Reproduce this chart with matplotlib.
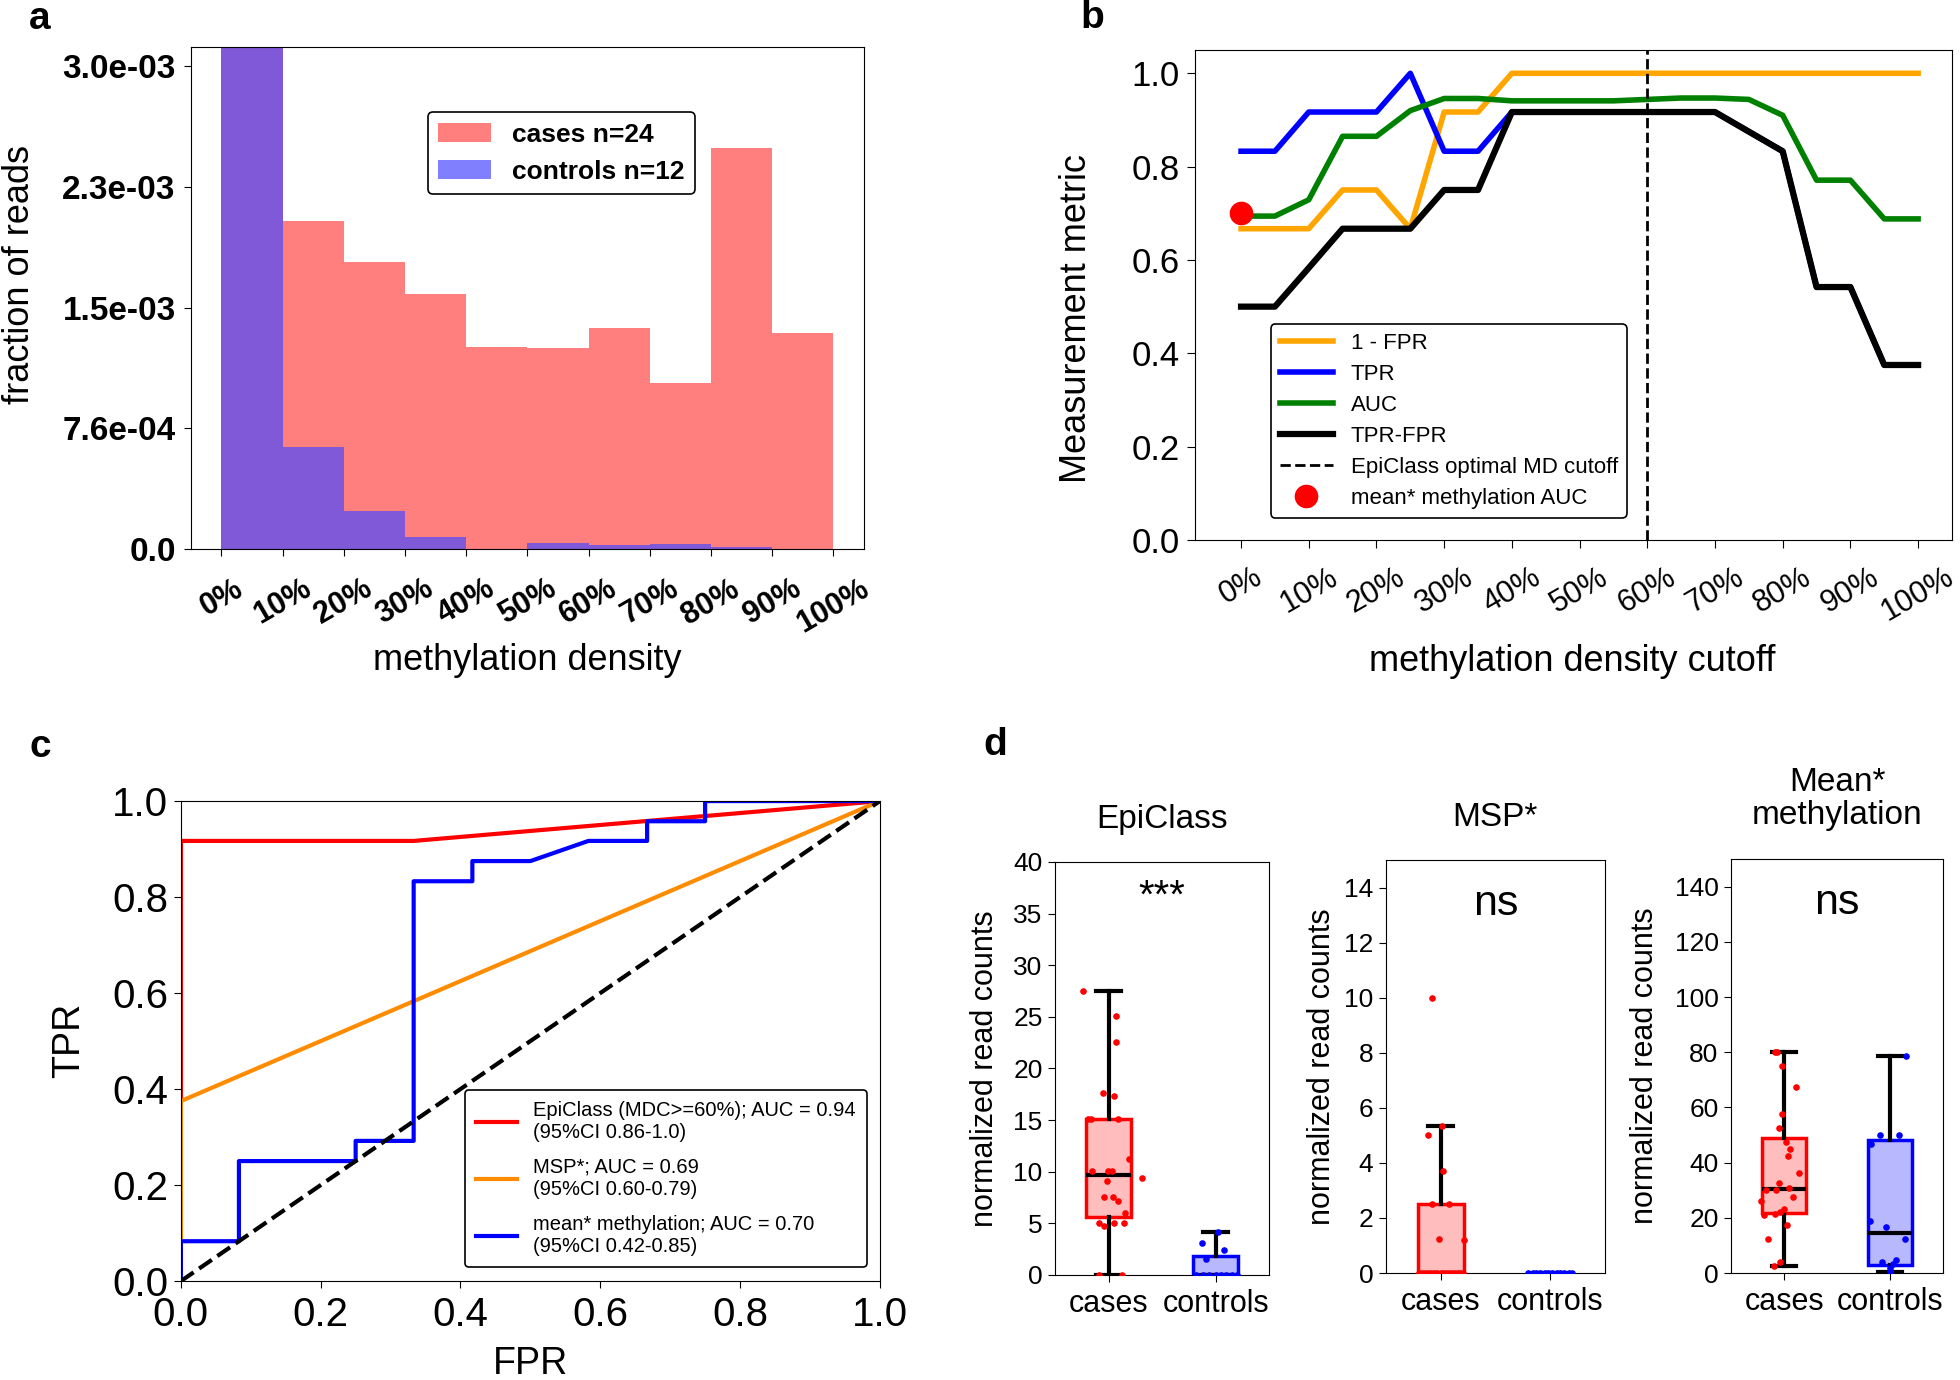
import numpy as np
import matplotlib
matplotlib.use("Agg")
import matplotlib.pyplot as plt

plt.rcParams['font.family'] = ['Liberation Sans', 'DejaVu Sans']

# ---- panel a: read fraction histogram (bins of 10%) ----
bin_left = [0, 10, 20, 30, 40, 50, 60, 70, 80, 90]
cases_frac = [3.6e-3, 2.064e-3, 1.807e-3, 1.607e-3, 1.271e-3, 1.268e-3, 1.392e-3, 1.047e-3, 2.526e-3, 1.361e-3]
controls_frac = [9.0e-3, 6.40e-4, 2.41e-4, 7.7e-5, 0.0, 3.6e-5, 2.7e-5, 3.3e-5, 1.4e-5, 0.0]
hist_yticks = [0.0, 7.6e-4, 1.52e-3, 2.28e-3, 3.04e-3]
hist_yticklabels = ['0.0', '7.6e-04', '1.5e-03', '2.3e-03', '3.0e-03']
pct_ticks = [0, 10, 20, 30, 40, 50, 60, 70, 80, 90, 100]
pct_labels = ['0%', '10%', '20%', '30%', '40%', '50%', '60%', '70%', '80%', '90%', '100%']

# ---- panel b: metrics vs methylation density cutoff ----
cutoffs = [0, 5, 10, 15, 20, 25, 30, 35, 40, 45, 50, 55, 60, 65, 70, 75, 80, 85, 90, 95, 100]
one_minus_fpr = [0.667, 0.667, 0.667, 0.75, 0.75, 0.667, 0.917, 0.917, 1.0, 1.0, 1.0,
                 1.0, 1.0, 1.0, 1.0, 1.0, 1.0, 1.0, 1.0, 1.0, 1.0]
tpr = [0.833, 0.833, 0.917, 0.917, 0.917, 1.0, 0.833, 0.833, 0.917, 0.917, 0.917,
       0.917, 0.917, 0.917, 0.917, 0.875, 0.833, 0.542, 0.542, 0.375, 0.375]
auc = [0.694, 0.694, 0.729, 0.865, 0.865, 0.92, 0.946, 0.946, 0.941, 0.941, 0.941,
       0.941, 0.944, 0.947, 0.947, 0.944, 0.91, 0.771, 0.771, 0.688, 0.688]
tpr_minus_fpr = [0.5, 0.5, 0.583, 0.667, 0.667, 0.667, 0.75, 0.75, 0.917, 0.917, 0.917,
                 0.917, 0.917, 0.917, 0.917, 0.875, 0.833, 0.542, 0.542, 0.375, 0.375]
optimal_cutoff = 60
mean_meth_auc = 0.70

# ---- panel c: ROC curves ----
epi_fpr = [0, 0, 0.333, 1.0]
epi_tpr = [0, 0.917, 0.917, 1.0]
msp_fpr = [0, 0, 1.0]
msp_tpr = [0, 0.375, 1.0]
mean_fpr = [0, 0, 0.083, 0.083, 0.25, 0.25, 0.333, 0.333, 0.417, 0.417, 0.5, 0.583, 0.667, 0.667, 0.75, 0.75, 1.0]
mean_tpr = [0, 0.083, 0.083, 0.25, 0.25, 0.292, 0.292, 0.833, 0.833, 0.875, 0.875, 0.917, 0.917, 0.958, 0.958, 1.0, 1.0]
roc_labels = ['EpiClass (MDC>=60%); AUC = 0.94\n(95%CI 0.86-1.0)',
              'MSP*; AUC = 0.69\n(95%CI 0.60-0.79)',
              'mean* methylation; AUC = 0.70\n(95%CI 0.42-0.85)']

# ---- panel d: normalized read counts ----
groups = ['cases', 'controls']

# EpiClass
epi_box = dict(med=[9.7, 0.0], q1=[5.65, 0.0], q3=[15.1, 1.85], whislo=[0.0, 0.0], whishi=[27.5, 4.17])
epi_cases = [27.5, 25.1, 22.6, 17.6, 17.35, 15.1, 15.1, 15.1, 11.2, 10.06, 10.06, 10.06,
             9.39, 9.13, 7.55, 7.55, 7.16, 5.97, 5.03, 4.77, 5.03, 5.03, 0.0, 0.0]
epi_cases_jit = [-0.243, 0.065, 0.065, -0.05, 0.047, -0.193, -0.168, 0.087, 0.193, -0.156, -0.006, 0.028,
                 0.308, -0.019, -0.047, 0.037, 0.087, 0.153, -0.093, -0.044, 0.053, 0.143, -0.093, 0.125]
epi_controls = [3.13, 4.16, 2.39, 1.55, 0, 0, 0, 0, 0, 0, 0, 0]
epi_controls_jit = [-0.13, 0.02, 0.078, -0.093, -0.18, -0.12, -0.06, 0.0, 0.05, 0.1, 0.15, 0.2]

# MSP*
msp_box = dict(med=[0.0, 0.0], q1=[0.0, 0.0], q3=[2.52, 0.0], whislo=[0.0, 0.0], whishi=[5.33, 0.0])
msp_cases = [10.0, 5.0, 5.33, 3.7, 2.5, 2.5, 1.23, 1.19] + [0.0] * 16
msp_cases_jit = [-0.075, -0.113, 0.016, 0.025, -0.079, 0.075, -0.013, 0.21,
                 -0.2, -0.17, -0.14, -0.12, -0.09, -0.06, -0.03, 0.0, 0.02, 0.05, 0.08, 0.1, 0.13, 0.16, 0.18, 0.2]
msp_controls = [0.0] * 12
msp_controls_jit = [-0.2, -0.16, -0.13, -0.09, -0.05, -0.02, 0.02, 0.06, 0.09, 0.13, 0.17, 0.2]

# Mean* methylation
mean_box = dict(med=[30.4, 14.5], q1=[21.9, 3.0], q3=[49.0, 48.1], whislo=[2.4, 0.4], whishi=[80.0, 78.6])
mean_cases = [80, 80, 75.1, 67.5, 57.6, 52.4, 47.6, 45.0, 42.5, 36.4, 32.5, 30.8,
              30.0, 30.0, 27.4, 26.2, 23.2, 22.3, 21.1, 21.4, 17.3, 12.4, 4.1, 2.4]
mean_cases_jit = [-0.088, -0.069, -0.016, 0.11, -0.019, -0.047, 0.016, 0.053, 0.038, 0.145, -0.05, 0.05,
                  -0.167, -0.079, 0.088, -0.22, 0.0, -0.041, -0.186, -0.082, 0.031, -0.148, -0.035, -0.094]
mean_controls = [78.6, 50, 50, 46.7, 18.7, 16.7, 12.4, 4.6, 3.9, 3.1, 1.8, 0.6]
mean_controls_jit = [0.145, -0.1, 0.088, -0.182, -0.186, -0.041, 0.142, 0.057, -0.075, 0.03, 0.0, 0.0]


fig = plt.figure(figsize=(19.6, 13.8), dpi=100)

# ================= panel a =================
ax_a = fig.add_axes([0.0974, 0.6022, 0.3434, 0.3638])
ax_a.bar(bin_left, cases_frac, width=10, align='edge', color='red', alpha=0.5, label='cases n=24')
ax_a.bar(bin_left, controls_frac, width=10, align='edge', color=(0.29, 0.29, 1.0), alpha=0.7, label='controls n=12')
ax_a.set_xlim(-5, 105)
ax_a.set_ylim(0, 3.163e-3)
ax_a.set_yticks(hist_yticks)
ax_a.set_yticklabels(hist_yticklabels, fontsize=24, fontweight='bold')
ax_a.set_xticks(pct_ticks)
ax_a.set_xticklabels(pct_labels, fontsize=22, fontweight='bold', rotation=30)
ax_a.tick_params(axis='x', length=5, pad=13)
ax_a.tick_params(axis='y', length=5, pad=6)
ax_a.set_xlabel('methylation density', fontsize=26)
ax_a.set_ylabel('fraction of reads', fontsize=26)
ax_a.xaxis.set_label_coords(0.5, -0.223)
ax_a.xaxis.label.set_va('center')
ax_a.yaxis.set_label_coords(-0.254, 0.546)
ax_a.yaxis.label.set_va('center')
leg = ax_a.legend(loc='upper left', bbox_to_anchor=(0.352, 0.87), borderaxespad=0,
                  prop={'size': 19, 'weight': 'bold'}, edgecolor='black', framealpha=1)
leg.get_frame().set_linewidth(1.2)

# ================= panel b =================
ax_b = fig.add_axes([0.6097, 0.6087, 0.3862, 0.3551])
ax_b.plot(cutoffs, one_minus_fpr, color='orange', lw=4, label='1 - FPR')
ax_b.plot(cutoffs, tpr, color='blue', lw=4, label='TPR')
ax_b.plot(cutoffs, auc, color='green', lw=4, label='AUC')
ax_b.plot(cutoffs, tpr_minus_fpr, color='black', lw=4.5, label='TPR-FPR')
ax_b.axvline(optimal_cutoff, color='black', ls='--', lw=2, label='EpiClass optimal MD cutoff')
ax_b.plot([0], [mean_meth_auc], 'o', color='red', ms=16, ls='none', label='mean* methylation AUC', zorder=5)
ax_b.set_xlim(-6.8, 105)
ax_b.set_ylim(0, 1.05)
ax_b.set_yticks([0.0, 0.2, 0.4, 0.6, 0.8, 1.0])
ax_b.set_yticklabels(['0.0', '0.2', '0.4', '0.6', '0.8', '1.0'], fontsize=25)
ax_b.set_xticks(pct_ticks)
ax_b.set_xticklabels(pct_labels, fontsize=22, rotation=30)
ax_b.tick_params(axis='x', length=6, pad=10)
ax_b.tick_params(axis='y', length=6, pad=5)
ax_b.set_xlabel('methylation density cutoff', fontsize=26)
ax_b.set_ylabel('Measurement metric', fontsize=26)
ax_b.xaxis.set_label_coords(0.499, -0.247)
ax_b.xaxis.label.set_va('center')
ax_b.yaxis.set_label_coords(-0.157, 0.451)
ax_b.yaxis.label.set_va('center')
leg = ax_b.legend(loc='lower left', bbox_to_anchor=(0.1, 0.045), borderaxespad=0,
                  fontsize=16, edgecolor='black', framealpha=1, numpoints=1,
                  labelspacing=0.45, handlelength=2.4)
leg.get_frame().set_linewidth(1.2)

# ================= panel c =================
ax_c = fig.add_axes([0.0923, 0.0717, 0.3566, 0.3478])
ax_c.plot(epi_fpr, epi_tpr, color='red', lw=3, label=roc_labels[0])
ax_c.plot(msp_fpr, msp_tpr, color='darkorange', lw=3, label=roc_labels[1])
ax_c.plot(mean_fpr, mean_tpr, color='blue', lw=3, label=roc_labels[2])
ax_c.plot([0, 1], [0, 1], color='black', ls='--', lw=3)
ax_c.set_xlim(0, 1)
ax_c.set_ylim(0, 1)
ax_c.set_xticks([0.0, 0.2, 0.4, 0.6, 0.8, 1.0])
ax_c.set_yticks([0.0, 0.2, 0.4, 0.6, 0.8, 1.0])
ax_c.tick_params(labelsize=29, length=5)
ax_c.tick_params(axis='x', pad=6)
ax_c.tick_params(axis='y', pad=4)
ax_c.set_xlabel('FPR', fontsize=27)
ax_c.set_ylabel('TPR', fontsize=27)
ax_c.xaxis.set_label_coords(0.5, -0.173)
ax_c.xaxis.label.set_va('center')
ax_c.yaxis.set_label_coords(-0.16, 0.502)
ax_c.yaxis.label.set_va('center')
leg = ax_c.legend(loc='lower right', bbox_to_anchor=(0.981, 0.029), borderaxespad=0,
                  fontsize=14.5, edgecolor='black', framealpha=1, labelspacing=0.8, borderpad=0.55)
leg.get_frame().set_linewidth(1.2)

# ================= panel d =================
def box_panel(rect, box, cases, cases_jit, controls, controls_jit, ymax, yticks, ylab_x, title, title_y, mark, mark_y, mark_size):
    ax = fig.add_axes(rect)
    stats = []
    for i in range(2):
        stats.append(dict(med=box['med'][i], q1=box['q1'][i], q3=box['q3'][i],
                          whislo=box['whislo'][i], whishi=box['whishi'][i], fliers=[]))
    bp = ax.bxp(stats, positions=[0, 1], widths=0.42, capwidths=0.23, patch_artist=True, showfliers=False,
                whiskerprops=dict(color='black', lw=3), capprops=dict(color='black', lw=3),
                medianprops=dict(color='black', lw=3))
    for patch, ec, fc in zip(bp['boxes'], ['red', 'blue'], [(1.0, 0.74, 0.74), (0.72, 0.72, 1.0)]):
        patch.set_edgecolor(ec)
        patch.set_facecolor(fc)
        patch.set_linewidth(2.5)
    ax.scatter(np.array(cases_jit), cases, s=14, color='red', zorder=4)
    ax.scatter(1 + np.array(controls_jit), controls, s=14, color='blue', zorder=4)
    ax.set_xlim(-0.5, 1.5)
    ax.set_ylim(0, ymax)
    ax.set_xticks([0, 1])
    ax.set_xticklabels(groups, fontsize=22)
    ax.set_yticks(yticks)
    ax.tick_params(axis='y', labelsize=19, length=5, pad=4)
    ax.tick_params(axis='x', length=5, pad=5)
    ax.set_ylabel('normalized read counts', fontsize=22)
    ax.yaxis.set_label_coords(ylab_x, 0.5)
    ax.yaxis.label.set_va('center')
    ax.text(0.5, title_y, title, transform=ax.transAxes, ha='center', va='center',
            fontsize=24, linespacing=1.1)
    ax.text(0.5, mark_y, mark, ha='center', va='center', fontsize=mark_size)
    return ax

box_panel([0.5383, 0.0761, 0.1092, 0.2993], epi_box, epi_cases, epi_cases_jit, epi_controls, epi_controls_jit,
          40, [0, 5, 10, 15, 20, 25, 30, 35, 40], -0.327, 'EpiClass', 1.103, '***', 36.6, 29)
box_panel([0.7071, 0.0775, 0.1117, 0.2993], msp_box, msp_cases, msp_cases_jit, msp_controls, msp_controls_jit,
          15, [0, 2, 4, 6, 8, 10, 12, 14], -0.292, 'MSP*', 1.103, 'ns', 13.4, 31)
box_panel([0.8832, 0.0775, 0.1082, 0.3], mean_box, mean_cases, mean_cases_jit, mean_controls, mean_controls_jit,
          150, [0, 20, 40, 60, 80, 100, 120, 140], -0.407, 'Mean*\nmethylation', 1.145, 'ns', 134, 31)

# panel letters
fig.text(40 / 1960, 1 - 19 / 1380, 'a', fontsize=28, fontweight='bold', ha='center', va='center')
fig.text(1092 / 1960, 1 - 18 / 1380, 'b', fontsize=28, fontweight='bold', ha='center', va='center')
fig.text(40 / 1960, 1 - 747 / 1380, 'c', fontsize=28, fontweight='bold', ha='center', va='center')
fig.text(995 / 1960, 1 - 745 / 1380, 'd', fontsize=28, fontweight='bold', ha='center', va='center')

fig.savefig('out.png', dpi=100)
